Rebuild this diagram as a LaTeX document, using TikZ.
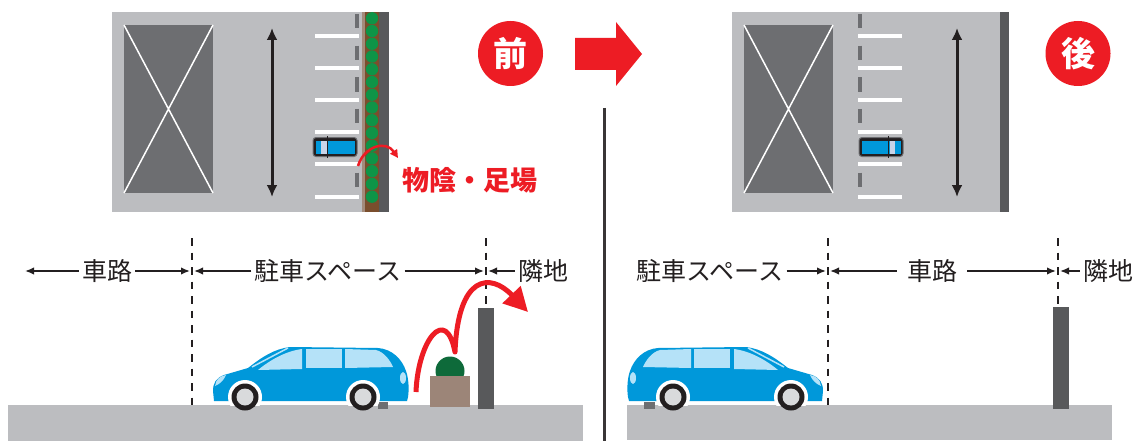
\documentclass[tikz,border=0pt]{standalone}
\usepackage{fontspec}
\newfontfamily\jp{Noto Sans CJK JP}
\usetikzlibrary{arrows.meta, positioning}

\definecolor{plan}{HTML}{BCBDC0}
\definecolor{bldg}{HTML}{6D6E71}
\definecolor{wall}{HTML}{58595B}
\definecolor{ink}{HTML}{231F20}
\definecolor{alert}{HTML}{ED1C24}
\definecolor{carblue}{HTML}{0098DA}
\definecolor{glass}{HTML}{B5E2F8}
\definecolor{screen}{HTML}{C8D4E8}
\definecolor{hub}{HTML}{D9DADC}
\definecolor{soil}{HTML}{7A4E2D}
\definecolor{bark}{HTML}{A38B7B}
\definecolor{leaf}{HTML}{0E9447}
\definecolor{shrub}{HTML}{0E6A3A}
\definecolor{pot}{HTML}{9C8578}

\begin{document}
\begin{tikzpicture}[x=1pt, y=-1pt,
      lbl/.style={font=\jp\fontsize{25}{30}\selectfont, text=ink, inner sep=3pt},
      warn/.style={font=\jp\bfseries\fontsize{27}{30}\selectfont, text=alert, inner sep=0pt},
      badge/.style={circle, fill=alert, minimum size=65pt, inner sep=0pt, text=white,
                    font=\jp\bfseries\fontsize{34}{34}\selectfont},
      dimarr/.style={-{Latex[length=9pt,width=7.5pt]}, line width=1.6pt, draw=ink, shorten >=2pt},
      div/.style={draw=ink, line width=2.5pt, dash pattern=on 7.5pt off 7pt},
      twoway/.style={{Latex[length=12pt,width=11pt]}-{Latex[length=12pt,width=11pt]}, line width=3pt, draw=ink},
      stall/.style={white, line width=4.5pt},
      lane/.style={bldg, line width=4pt},
      % side view of a minivan, facing left, origin on the ground under its middle
      sidecar/.pic={
        \fill[carblue] (-96,-4) -- (-97,-14)
            .. controls (-97,-22) and (-94,-27) .. (-86,-30)
            -- (-62,-37)
            .. controls (-48,-48) and (-36,-56) .. (-20,-58)
            -- (68,-57)
            .. controls (82,-56) and (92,-46) .. (96,-34)
            .. controls (99,-26) and (99,-14) .. (98,-8)
            -- (97,-4) -- cycle;
        \fill[glass] (-52,-35) .. controls (-40,-45) and (-24,-54) .. (-8,-56) -- (-8,-36) -- cycle;
        \fill[glass] (-4,-56) rectangle (32,-37);
        \fill[glass] (35,-56) -- (66,-55) .. controls (74,-53) and (80,-45) .. (83,-38) -- (35,-37) -- cycle;
        \draw[glass, line width=1.5pt] (-58,-38) -- (-22,-57);
        \fill[glass] (-95,-19) .. controls (-94,-26) and (-90,-29) .. (-84,-30)
            .. controls (-86,-25) and (-90,-21) .. cycle;
        \fill[glass] (93,-27) ellipse (3 and 6);
        \begin{scope}
          \clip (-100,-70) rectangle (100,0);
          \foreach \wx in {-65,53} \fill[white] (\wx,-8) circle (17);
        \end{scope}
        \foreach \wx in {-65,53} {
          \fill[ink] (\wx,-8) circle (13.5);
          \fill[hub] (\wx,-8) circle (8.5);
        }
      },
      % same car seen from above, facing left
      topcar/.pic={
        \filldraw[fill=ink, draw=bldg, line width=1pt, rounded corners=3pt] (-22,-9.5) rectangle (22,9.5);
        \fill[carblue] (-19.5,-6.5) rectangle (19.5,6.5);
        \fill[screen] (-14,-6.5) rectangle (-8.5,6.5);
        \draw[ink, line width=1.2pt] (-7.5,-11) -- (-7.5,11);
      }]

    \fill[white] (0,0) rectangle (1145,441);
    \useasboundingbox (0,0) rectangle (1145,441);

    % === Plan, before ===
    \fill[plan] (112,12) rectangle (389,212);
    \fill[bldg] (124,25) rectangle (213,193);
    \draw[white, line width=1.5pt] (124,25) -- (213,193) (213,25) -- (124,193);
    \draw[twoway] (272,28) -- (272,197);
    \foreach \y in {36,68,100,132,164,197} \draw[stall] (315,\y) -- (359,\y);
    \foreach \y in {14,45.7,77.4,109,172.5} \draw[lane] (357,\y) -- ++(0,14.5);
    \fill[bark] (362,12) rectangle (365,212);
    \fill[soil] (365,12) rectangle (379,212);
    \fill[wall] (379,12) rectangle (389,212);
    \foreach \i in {0,...,14} \fill[leaf] (372,18.3+12.74*\i) circle (6.2);
    \pic at (335,147) {topcar};
    \draw[alert, line width=2.5pt, -{Triangle[length=8pt,width=8pt]}]
        (358,166) .. controls (364,146) and (386,140) .. (398,158);
    \node[warn] (shade) at (470,180) {物陰・足場};
    \node[badge] (before) at (510.5,53.5) {前};

    % === before -> after ===
    \fill[alert] (575,38) -- (616,38) -- (616,22) -- (642,54) -- (616,86) -- (616,70) -- (575,70) -- cycle;
    \draw[ink!90, line width=3pt] (604,108) -- (604,441);

    % === Plan, after ===
    \fill[plan] (732,12) rectangle (1009,212);
    \fill[bldg] (744,25) rectangle (833,193);
    \draw[white, line width=1.5pt] (744,25) -- (833,193) (833,25) -- (744,193);
    \foreach \y in {36,68,100,132,164,197} \draw[stall] (858,\y) -- (902,\y);
    \foreach \y in {14,45.7,77.4,109,172.5} \draw[lane] (860,\y) -- ++(0,14.5);
    \draw[twoway] (957,28) -- (957,197);
    \fill[wall] (1000,12) rectangle (1009,212);
    \pic[xscale=-1] at (881,147) {topcar};
    \node[badge] (after) at (1078,53.5) {後};

    % === Section, before ===
    \fill[plan] (8,405) rectangle (583,441);
    \fill[bldg] (378,402) rectangle (388,409);
    \fill[wall] (478,308) rectangle (494,409);
    \fill[shrub] (450,371) circle (14.5);
    \fill[pot] (430,376) rectangle (470,407);
    \pic at (310,405) {sidecar};
    \coordinate (a1t) at (192,238);
    \coordinate (a1b) at (192,405);
    \coordinate (a2t) at (486,238);
    \coordinate (a2b) at (486,308);
    \draw[div] (a1t) -- (a1b);
    \draw[div] (a2t) -- (a2b);
    \draw[alert, line width=5pt, line join=round, -{Triangle[length=24pt,width=24pt]}]
        (416,392) .. controls (418,340) and (446,305) .. (455,352)
        .. controls (458,275) and (490,272) .. (528,312);

    \node[lbl] (roadA) at (107,271) {車路};
    \node[lbl] (bayA) at (328,271) {駐車スペース};
    \node[lbl] (nextA) at (543,271) {隣地};
    \coordinate (edgeA) at (25,271);
    \draw[dimarr, shorten >=0pt] (roadA) -- (edgeA);
    \draw[dimarr] (roadA) -- (a1t |- roadA);
    \draw[dimarr] (bayA) -- (a1t |- bayA);
    \draw[dimarr] (bayA) -- (a2t |- bayA);
    \draw[dimarr] (nextA) -- (a2t |- nextA);

    % === Section, after ===
    \fill[plan] (627,405) rectangle (1112,440);
    \fill[bldg] (644,402) rectangle (655,409);
    \fill[wall] (1053,307) rectangle (1069,409);
    \pic[xscale=-1] at (726,405) {sidecar};
    \coordinate (b1t) at (828,238);
    \coordinate (b1b) at (828,405);
    \coordinate (b2t) at (1058,238);
    \coordinate (b2b) at (1058,307);
    \draw[div] (b1t) -- (b1b);
    \draw[div] (b2t) -- (b2b);

    \node[lbl] (bayB) at (710,271) {駐車スペース};
    \node[lbl, inner xsep=10pt] (roadB) at (932,271) {車路};
    \node[lbl] (nextB) at (1108,271) {隣地};
    \draw[dimarr] (bayB) -- (b1t |- bayB);
    \draw[dimarr] (roadB) -- (b1t |- roadB);
    \draw[dimarr] (roadB) -- (b2t |- roadB);
    \draw[dimarr] (nextB) -- (b2t |- nextB);

\end{tikzpicture}
\end{document}
